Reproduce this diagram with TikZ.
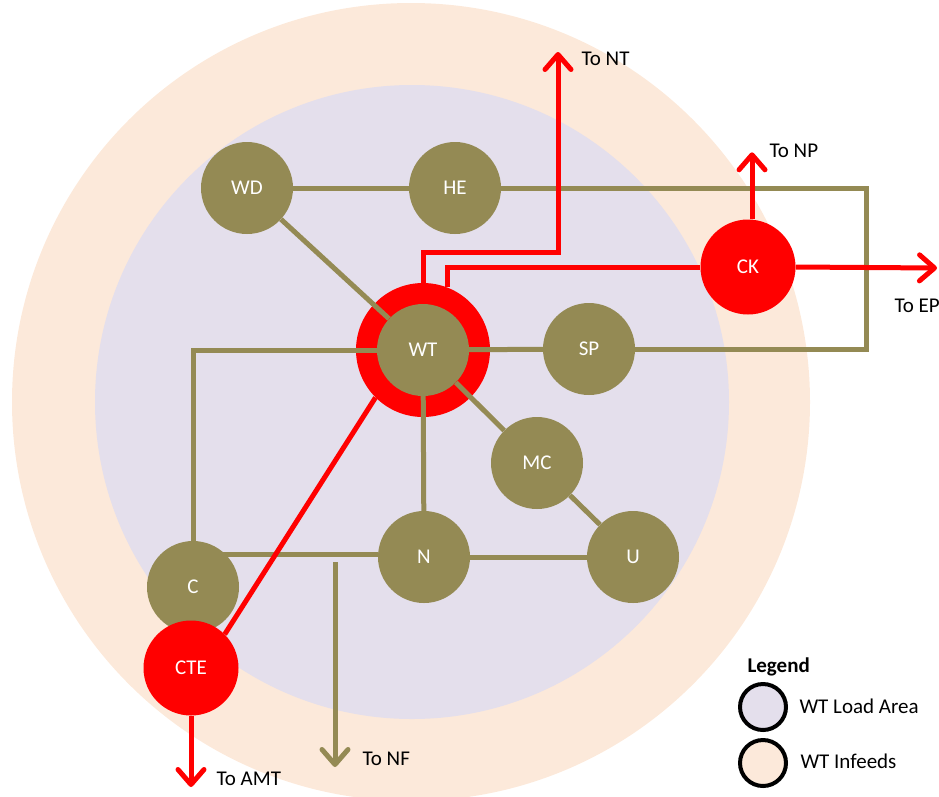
\documentclass[tikz,border=0pt]{standalone}
\usepackage{fontspec}
\setmainfont{Carlito}
\usetikzlibrary{arrows.meta}
\definecolor{nodeolive}{HTML}{948A54}
\definecolor{peach}{HTML}{FCE9DA}
\definecolor{lav}{HTML}{E4DFEC}
\pgfdeclarelayer{back}
\pgfdeclarelayer{ring}
\pgfdeclarelayer{lines}
\pgfsetlayers{back,ring,lines,main}
\begin{document}
\begin{tikzpicture}[x=1pt,y=-1pt,
  olv/.style={line width=5pt, draw=nodeolive},
  rd/.style={line width=5pt, draw=red},
  txt/.style={font=\fontsize{21}{25}\selectfont},
  bus/.style={circle, fill=nodeolive, minimum size=92pt, inner sep=0pt, text=white, txt},
  hot/.style={circle, fill=red, minimum size=95pt, inner sep=0pt, text=white, txt},
  ringc/.style={circle, fill=red, minimum size=134pt, inner sep=0pt},
  tipr/.style={-{Straight Barb[length=15pt,width=26pt,round]}},
  lbl/.style={anchor=base west, txt},
  legc/.style={circle, draw=black, line width=4pt, minimum size=46pt, inner sep=0pt}]
\useasboundingbox (0,0) rectangle (939,796);
\begin{pgfonlayer}{back}
  \fill[peach] (411,402) circle[radius=399pt];
  \fill[lav] (412,402) circle[radius=317pt];
\end{pgfonlayer}
\begin{pgfonlayer}{ring}
  \node[ringc] (WTr) at (423,350) {};
\end{pgfonlayer}
% nodes
\node[bus] (WD) at (247,188) {WD};
\node[bus] (HE) at (455,188) {HE};
\node[bus] (WT) at (423,350) {WT};
\node[bus] (SP) at (589,349) {SP};
\node[bus] (MC) at (537,463) {MC};
\node[bus] (U) at (633,557) {U};
\node[bus] (N) at (424,557) {N};
\node[bus] (C) at (193,587) {C};
\node[hot] (CTE) at (191,668) {CTE};
\node[hot] (CK) at (748,267) {CK};
% free ends
\coordinate (NTtip) at (558,52);
\coordinate (EPtip) at (937,268);
\coordinate (AMTtip) at (191,787);
\coordinate (NFs) at (335,562);
\coordinate (NFt) at (335,767);
\coordinate (ret) at (866,349);
\begin{pgfonlayer}{lines}
  \draw[olv] (WD) -- (HE);
  \draw[olv] (WD) -- (WT);
  \draw[olv] (HE.east) -| (ret) -- (SP.east);
  \draw[olv] (WT) -- (SP);
  \draw[olv] (WT.center) -| (C.north);
  \draw[olv] (WT) -- (N);
  \draw[olv] (WT) -- (MC);
  \draw[olv] (MC) -- (U);
  \draw[olv] (N) -- (U);
  \draw[olv] ([yshift=3pt]N.west) -- ([yshift=3pt]N.west -| C.center);
  \draw[olv,tipr] (NFs) -- (NFt);
  \draw[rd,tipr] (WTr.north) -- ++(0,-30) -| (NTtip);
  \draw[rd] (WTr.69) |- (CK.west);
  \draw[rd,tipr] ([xshift=4pt]CK.north) -- ++(0,-67);
  \draw[rd,tipr] (CK.east) -- (EPtip);
  \draw[rd] (WTr.225) -- (CTE.45);
  \draw[rd,tipr] (CTE.south) -- (AMTtip);
\end{pgfonlayer}
% labels
\node[lbl] (lNT) at (578,65) {To NT};
\node[lbl] (lNP) at (766,157) {To NP};
\node[lbl] (lEP) at (891,312) {To EP};
\node[lbl] (lAMT) at (213,785) {To AMT};
\node[lbl] (lNF) at (359,765) {To NF};
% legend
\node[lbl, font=\fontsize{21}{25}\selectfont\bfseries] (leg) at (744,672) {Legend};
\node[legc, fill=lav] (lg1) at (763,707) {};
\node[legc, fill=peach] (lg2) at (763,763) {};
\node[lbl] (lt1) at (796,713) {WT Load Area};
\node[lbl] (lt2) at (797,768) {WT Infeeds};
\end{tikzpicture}
\end{document}
